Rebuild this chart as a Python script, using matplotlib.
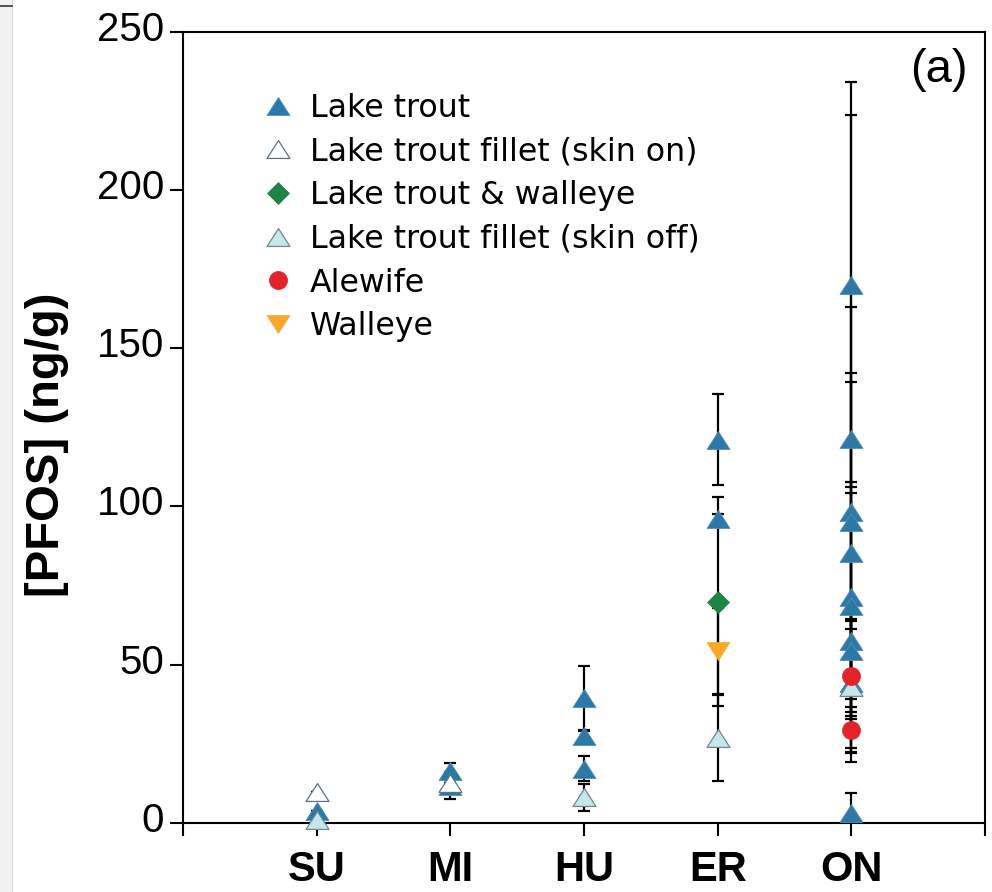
import matplotlib
matplotlib.use("Agg")
import matplotlib.pyplot as plt
from matplotlib.patches import Rectangle
from matplotlib.lines import Line2D
from matplotlib.transforms import ScaledTranslation

plt.rcParams['font.family'] = ['Liberation Sans', 'DejaVu Sans']

# ---------------- data ----------------
lakes = ["SU", "MI", "HU", "ER", "ON"]
lake_pos = [1, 2, 3, 4, 5]

# Lake trout (whole fish)
lt_lake = ["SU", "MI", "MI", "HU", "HU", "HU", "ER", "ER",
           "ON", "ON", "ON", "ON", "ON", "ON", "ON", "ON", "ON", "ON", "ON"]
lt_val = [3.7, 16.3, 11.7, 39.4, 27.4, 17.1, 121.1, 96.0,
          170.0, 121.4, 98.3, 95.0, 85.2, 71.4, 68.5, 57.4, 54.3, 44.0, 3.0]
lt_err = [0, 2.7, 4.2, 10.1, 1.5, 3.9, 14.3, 1.5,
          64.0, 102.3, 64.7, 47.0, 54.2, 36.4, 35.8, 3.7, 13.6, 20.5, 6.3]

# Lake trout fillet (skin on)
son_lake = ["SU", "MI"]
son_val = [9.7, 12.5]
son_err = [0, 0]

# Lake trout & walleye
ltw_lake = ["ER"]
ltw_val = [69.8]
ltw_err = [33.0]

# Lake trout fillet (skin off)
soff_lake = ["SU", "HU", "ER", "ON"]
soff_val = [1.0, 8.0, 26.9, 43.0]
soff_err = [0, 4.2, 13.6, 20.8]

# Alewife
ale_lake = ["ON", "ON"]
ale_val = [46.4, 29.3]
ale_err = [7.3, 7.2]

# Walleye
wal_lake = ["ER"]
wal_val = [54.4]
wal_err = [13.6]

y_ticks = [0, 50, 100, 150, 200, 250]

# ---------------- styling ----------------
blue = "#2e78a6"
tri_up = [(0, 0.78), (-1, -0.78), (1, -0.78), (0, 0.78)]
tri_dn = [(0, -0.78), (-1, 0.78), (1, 0.78), (0, -0.78)]

series = [
    (lt_lake, lt_val, lt_err, "Lake trout",
     dict(marker=tri_up, markersize=16.5, markerfacecolor=blue, markeredgecolor="#4f8fbb", markeredgewidth=0.6)),
    (son_lake, son_val, son_err, "Lake trout fillet (skin on)",
     dict(marker=tri_up, markersize=16.5, markerfacecolor="white", markeredgecolor="#5d7383", markeredgewidth=0.9)),
    (ltw_lake, ltw_val, ltw_err, "Lake trout & walleye",
     dict(marker="D", markersize=11, markerfacecolor="#1e8445", markeredgecolor="#1e8445", markeredgewidth=0.5)),
    (soff_lake, soff_val, soff_err, "Lake trout fillet (skin off)",
     dict(marker=tri_up, markersize=16.5, markerfacecolor="#c6e6ea", markeredgecolor="#6e8890", markeredgewidth=0.9)),
    (ale_lake, ale_val, ale_err, "Alewife",
     dict(marker="o", markersize=13, markerfacecolor="#e2242a", markeredgecolor="#e2242a", markeredgewidth=0.5)),
    (wal_lake, wal_val, wal_err, "Walleye",
     dict(marker=tri_dn, markersize=16.5, markerfacecolor="#f9a82a", markeredgecolor="#f9a82a", markeredgewidth=0.5)),
]

fig = plt.figure(figsize=(9.92, 8.92), dpi=100)
# grey screenshot strip on the left
fig.patches.append(Rectangle((0, 0), 12 / 992, 1, transform=fig.transFigure,
                             facecolor="#f1f1f1", edgecolor="none", zorder=0))
fig.lines.append(Line2D([12 / 992, 12 / 992], [0, 1], transform=fig.transFigure,
                        color="#dcdcdc", linewidth=0.8))
fig.lines.append(Line2D([0, 12 / 992], [1 - 6 / 892, 1 - 6 / 892], transform=fig.transFigure,
                        color="#333333", linewidth=1.2))

ax = fig.add_axes([183 / 992, 69.3 / 892, (985 - 183) / 992, (822.7 - 31.7) / 892])

pos_of = dict(zip(lakes, lake_pos))
handles = []
for z, (lk, vals, errs, label, st) in enumerate(series):
    xs = [pos_of[l] for l in lk]
    ax.errorbar(xs, vals, yerr=errs, fmt="none", ecolor="black", elinewidth=1.6,
                capsize=4.5, capthick=1.6, zorder=2)
    ln, = ax.plot(xs, vals, linestyle="none", zorder=5 + z, clip_on=False, **st)
    handles.append(ln)

ax.set_xlim(0, 6)
ax.set_ylim(0, 250)
ax.set_xticks([0] + lake_pos + [6])
ax.set_xticklabels([""] + lakes + [""], fontsize=30, fontweight="bold")
ax.set_yticks(y_ticks)
ax.set_yticklabels([str(v) for v in y_ticks], fontsize=29)
ax.tick_params(axis="both", direction="out", length=9.5, width=1.5, color="black")
ax.tick_params(axis="x", pad=10)
ax.tick_params(axis="y", pad=4)
shift_up = ScaledTranslation(0, 0.06, fig.dpi_scale_trans)
for lab in ax.get_yticklabels():
    lab.set_transform(lab.get_transform() + shift_up)
for s in ax.spines.values():
    s.set_linewidth(1.5)

ax.text(-0.1696, 0.4775, "[PFOS] (ng/g)", transform=ax.transAxes, rotation=90,
        fontsize=34, fontweight="bold", ha="center", va="center")

ax.text(0.9426, 0.9516, "(a)", transform=ax.transAxes, fontsize=34,
        ha="center", va="center")

leg = ax.legend(handles, [s[3] for s in series], loc="upper left",
                bbox_to_anchor=(0.099, 0.9227), frameon=False,
                prop={"family": "DejaVu Sans", "size": 22.8},
                borderpad=0, handlelength=1.0, handletextpad=0.5,
                labelspacing=0.40, numpoints=1, borderaxespad=0)

fig.savefig("out.png", dpi=100)
